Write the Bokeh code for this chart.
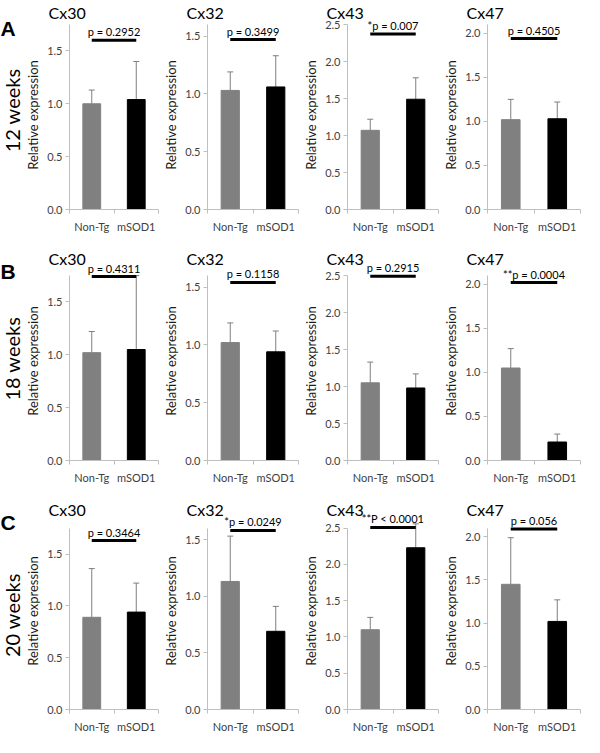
import math
from bokeh.plotting import figure
from bokeh.layouts import row, column
from bokeh.models import (FixedTicker, PrintfTickFormatter, Label, Whisker, TeeHead,
                          ColumnDataSource, Range1d)
from bokeh.core.properties import value
from bokeh.embed import file_html
from bokeh.resources import INLINE

# ---------------- data ----------------
groups = ["Non-Tg", "mSOD1"]
genes = ["Cx30", "Cx32", "Cx43", "Cx47"]
ages = ["12 weeks", "18 weeks", "20 weeks"]
letters = ["A", "B", "C"]
bar_colors = ["#808080", "#000000"]

# mean relative expression per gene: [Non-Tg, mSOD1]
mean_12w = [[1.00, 1.04], [1.03, 1.06], [1.07, 1.49], [1.02, 1.03]]
err_12w = [[0.13, 0.36], [0.16, 0.27], [0.15, 0.29], [0.23, 0.19]]
mean_18w = [[1.02, 1.05], [1.02, 0.94], [1.05, 0.98], [1.05, 0.21]]
err_18w = [[0.20, 0.70], [0.17, 0.18], [0.28, 0.19], [0.22, 0.09]]
mean_20w = [[0.89, 0.94], [1.13, 0.69], [1.10, 2.23], [1.45, 1.02]]
err_20w = [[0.47, 0.28], [0.40, 0.22], [0.17, 0.33], [0.54, 0.25]]

p_12w = ["p = 0.2952", "p = 0.3499", "*p = 0.007", "p = 0.4505"]
p_18w = ["p = 0.4311", "p = 0.1158", "p = 0.2915", "**p = 0.0004"]
p_20w = ["p = 0.3464", "*p = 0.0249", "**P < 0.0001", "p = 0.056"]

bracket_12w = [1.60, 1.47, 2.37, 1.94]
bracket_18w = [1.74, 1.54, 2.49, 2.02]
bracket_20w = [1.63, 1.58, 2.51, 2.09]

y_ticks = [[0, 0.5, 1.0, 1.5], [0, 0.5, 1.0, 1.5],
           [0, 0.5, 1.0, 1.5, 2.0, 2.5], [0, 0.5, 1.0, 1.5, 2.0]]
y_axis_max = [1.75, 1.60, 2.50, 2.10]

means = [mean_12w, mean_18w, mean_20w]
errs = [err_12w, err_18w, err_20w]
ptexts = [p_12w, p_18w, p_20w]
brackets = [bracket_12w, bracket_18w, bracket_20w]

# ---------------- layout params ----------------
FONT = "Lato"
FRAME_W = 98
AX_H = 185                 # pixel length of the y axis
heads = [4, 14, 16]        # free room above axis top inside the frame
tops = [20, 16, 16]
bottoms = [36, 36, 22]
title_above_axis = [13, 18, 20]
lefts = [38, 40, 40, 42]
LBL_W = 22
AXIS_COLOR = "#bfbfbf"
TICK_LABEL_COLOR = "#404040"


def row_height(ri):
    return tops[ri] + heads[ri] + AX_H + bottoms[ri]


def make_label_fig(ri):
    h = row_height(ri)
    p = figure(width=LBL_W, height=h, x_range=Range1d(0, LBL_W), y_range=Range1d(0, h),
               output_backend="svg", toolbar_location=None,
               min_border_left=0, min_border_right=0, min_border_top=0, min_border_bottom=0)
    p.title.visible = False
    p.axis.visible = False
    p.grid.visible = False
    p.outline_line_color = None
    # panel letter, level with the gene titles
    letter_y = bottoms[ri] + AX_H + title_above_axis[ri]
    p.text(x=[0], y=[letter_y], text=[letters[ri]], text_font=value("Liberation Sans"),
           text_font_style="bold", text_font_size="21px", text_baseline="middle",
           text_align="left", text_color="black")
    # row label, centred on the axis
    p.text(x=[LBL_W / 2], y=[bottoms[ri] + AX_H / 2], text=[ages[ri]], angle=math.pi / 2,
           text_font=value(FONT), text_font_size="20px", text_baseline="middle",
           text_align="center", text_color="black")
    return p


def make_panel(ri, ci):
    left = lefts[ci]
    right = 2
    w = left + FRAME_W + right
    h = row_height(ri)
    ymax = y_axis_max[ci]
    yend = ymax * (AX_H + heads[ri]) / AX_H
    p = figure(width=w, height=h, x_range=Range1d(0, 2), y_range=Range1d(0, yend),
               output_backend="svg", toolbar_location=None,
               min_border_left=left, min_border_right=right,
               min_border_top=tops[ri], min_border_bottom=bottoms[ri])
    p.outline_line_color = None
    p.xgrid.visible = False
    p.ygrid.visible = False

    m = means[ri][ci]
    e = errs[ri][ci]
    src = ColumnDataSource(dict(
        x=[0.5, 1.5], mean=m, top=[m[0] + e[0], m[1] + e[1]], color=bar_colors, grp=groups))
    p.vbar(x="x", top="mean", width=0.4, color="color", source=src)

    wh = Whisker(source=src, base="x", lower="mean", upper="top", dimension="height",
                 line_color="#7f7f7f", line_width=1,
                 upper_head=TeeHead(size=6, line_color="#7f7f7f", line_width=1),
                 lower_head=None)
    p.add_layout(wh)

    by = brackets[ri][ci]
    bsrc = ColumnDataSource(dict(x0=[0.5], x1=[1.5], y=[by]))
    p.segment(x0="x0", x1="x1", y0="y", y1="y", line_width=3, line_color="black", source=bsrc)
    p.add_layout(Label(x=1, y=by, text=ptexts[ri][ci], text_align="center",
                       text_baseline="bottom", y_offset=2, text_font=FONT,
                       text_font_size="11px", text_color="black"))

    # axes
    xa = p.xaxis[0]
    xa.ticker = FixedTicker(ticks=[0.5, 1.5], minor_ticks=[0, 1, 2])
    xa.major_label_overrides = {0.5: groups[0], 1.5: groups[1]}
    xa.major_tick_out = 0
    xa.major_tick_in = 0
    xa.minor_tick_out = 4
    xa.minor_tick_in = 0
    xa.minor_tick_line_color = AXIS_COLOR
    xa.axis_line_color = AXIS_COLOR
    xa.major_label_text_font = FONT
    xa.major_label_text_font_size = "11px"
    xa.major_label_text_color = TICK_LABEL_COLOR
    xa.major_label_standoff = 6

    ya = p.yaxis[0]
    ya.bounds = (0, ymax)
    ya.ticker = FixedTicker(ticks=y_ticks[ci], minor_ticks=[])
    ya.formatter = PrintfTickFormatter(format="%.1f")
    ya.major_tick_out = 4
    ya.major_tick_in = 0
    ya.minor_tick_out = 0
    ya.minor_tick_in = 0
    ya.major_tick_line_color = AXIS_COLOR
    ya.axis_line_color = AXIS_COLOR
    ya.major_label_text_font = FONT
    ya.major_label_text_font_size = "11px"
    ya.major_label_text_color = TICK_LABEL_COLOR
    ya.major_label_standoff = 3
    ya.axis_label = "Relative expression"
    ya.axis_label_text_font = FONT
    ya.axis_label_text_font_size = "13px"
    ya.axis_label_text_font_style = "normal"
    ya.axis_label_text_color = "#1a1a1a"
    ya.axis_label_standoff = 3

    # panel title (centre placed title_above_axis px above the axis top)
    centre_above_frame = title_above_axis[ri] - heads[ri]
    p.title.text = genes[ci]
    p.title.align = "left"
    p.title.offset = -21
    p.title.standoff = 2 * (centre_above_frame - 10)
    p.title.text_font = FONT
    p.title.text_font_size = "16px"
    p.title.text_font_style = "normal"
    p.title.text_color = "black"
    return p


rows = []
for ri in range(3):
    rows.append(row(make_label_fig(ri), *[make_panel(ri, ci) for ci in range(4)]))
layout = column(*rows)

open("out.html", "w").write(file_html(layout, INLINE))
